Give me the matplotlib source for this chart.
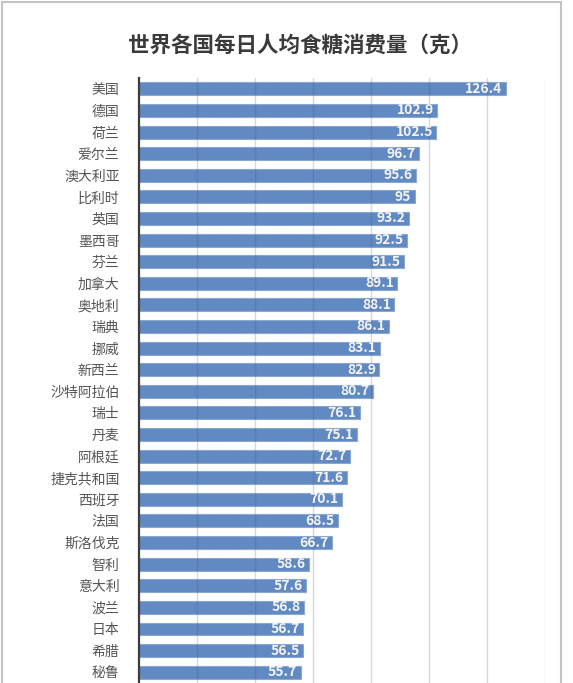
import matplotlib
matplotlib.use("Agg")
import matplotlib.pyplot as plt
from matplotlib.patches import Rectangle

plt.rcParams["font.family"] = ["Noto Sans CJK SC", "DejaVu Sans"]

# Data
countries = ["美国", "德国", "荷兰", "爱尔兰", "澳大利亚", "比利时", "英国", "墨西哥",
             "芬兰", "加拿大", "奥地利", "瑞典", "挪威", "新西兰", "沙特阿拉伯", "瑞士",
             "丹麦", "阿根廷", "捷克共和国", "西班牙", "法国", "斯洛伐克", "智利", "意大利",
             "波兰", "日本", "希腊", "秘鲁"]
values = [126.4, 102.9, 102.5, 96.7, 95.6, 95, 93.2, 92.5,
          91.5, 89.1, 88.1, 86.1, 83.1, 82.9, 80.7, 76.1,
          75.1, 72.7, 71.6, 70.1, 68.5, 66.7, 58.6, 57.6,
          56.8, 56.7, 56.5, 55.7]
value_labels = ["126.4", "102.9", "102.5", "96.7", "95.6", "95", "93.2", "92.5",
                "91.5", "89.1", "88.1", "86.1", "83.1", "82.9", "80.7", "76.1",
                "75.1", "72.7", "71.6", "70.1", "68.5", "66.7", "58.6", "57.6",
                "56.8", "56.7", "56.5", "55.7"]
title = "世界各国每日人均食糖消费量（克）"
grid_ticks = [20, 40, 60, 80, 100, 120, 140]

W, H = 573, 683
fig = plt.figure(figsize=(W / 100, H / 100), dpi=100)

# outer frame of the screenshot
fig.patches.append(Rectangle((1.5 / W, -0.05), (561 - 1.5) / W, 1.05 - 1.5 / H,
                             transform=fig.transFigure, fill=False,
                             edgecolor="#c4c4c4", linewidth=1.5))

top_px, left_px, right_px = 78, 139, 545
ax = fig.add_axes([left_px / W, 0, (right_px - left_px) / W, 1 - top_px / H])

pitch = 21.6
ypos = list(range(len(countries)))
ax.barh(ypos, values, height=0.6, color="#6189c2", edgecolor="#8aa8d4",
        linewidth=0.8, zorder=2)

for y, v, lab in zip(ypos, values, value_labels):
    ax.text(v - 1.2, y, lab, ha="right", va="center", color="#f4f4f4",
            fontsize=10, fontweight="bold", zorder=4)

ax.set_xlim(0, 140)
ax.set_ylim((H - 89) / pitch, -0.5)
ax.set_xticks(grid_ticks)
ax.set_xticklabels([])
ax.tick_params(axis="x", length=0)
# faint grid drawn over the bars, as in the reference
ax.xaxis.grid(True, color="#555555", alpha=0.22, linewidth=1.0)
ax.set_axisbelow(False)

ax.set_yticks(ypos)
ax.set_yticklabels(countries, fontsize=10, color="#555555")
ax.tick_params(axis="y", length=0, pad=14)

for side in ["top", "right", "bottom"]:
    ax.spines[side].set_visible(False)
ax.spines["left"].set_color("#3c3c3c")
ax.spines["left"].set_linewidth(1.6)
ax.spines["left"].set_zorder(5)

fig.text(300 / W, 1 - 45 / H, title, ha="center", va="center",
         fontsize=15.5, fontweight="bold", color="#3a3a3a")

fig.savefig("out.png", dpi=100)
